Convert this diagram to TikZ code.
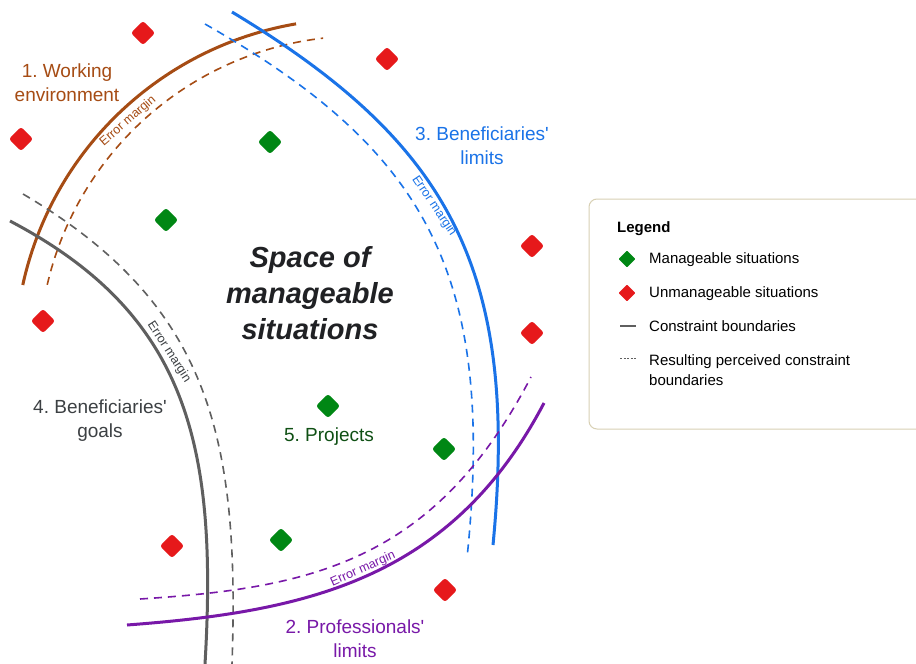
\documentclass[tikz,border=0pt]{standalone}
\usepackage{fontspec}
\setmainfont{Liberation Sans}
\frenchspacing
\definecolor{cbrown}{RGB}{166,76,20}
\definecolor{cblue}{RGB}{26,115,232}
\definecolor{cgray}{RGB}{95,95,95}
\definecolor{cdark}{RGB}{60,64,67}
\definecolor{cpurple}{RGB}{120,24,168}
\definecolor{cred}{RGB}{230,25,27}
\definecolor{cgreen}{RGB}{0,135,20}
\definecolor{cdgreen}{RGB}{15,80,20}
\definecolor{ctitle}{RGB}{32,33,36}
\definecolor{cbox}{RGB}{216,208,180}
\newcommand{\ap}{\textquotesingle}
\begin{document}
\begin{tikzpicture}[x=1pt,y=-1pt,
  solidb/.style={line width=3pt},
  dashb/.style={line width=1.6pt,dash pattern=on 8pt off 6pt},
  sit/.style={rectangle,rotate=45,minimum size=17pt,inner sep=0pt,rounded corners=2.5pt},
  good/.style={sit,fill=cgreen},
  bad/.style={sit,fill=cred},
  lab/.style={font=\fontsize{19}{24}\selectfont,align=center},
  em/.style={font=\fontsize{12.5}{14}\selectfont,inner sep=0pt},
  leg/.style={font=\fontsize{15}{20}\selectfont,anchor=west,align=left,inner sep=0pt}]
\useasboundingbox (0,0) rectangle (916,664);
\fill[white] (0,0) rectangle (916,664);
% Working environment
\draw[cbrown,solidb] plot[domain=192.3:260.3,samples=80] ({353+338*cos(\x)},{357+338*sin(\x)});
\draw[cbrown,dashb] plot[domain=193:263.4,samples=80] ({360+321*cos(\x)},{357+321*sin(\x)});
% Beneficiaries' limits
\draw[cblue,solidb] (232,12) .. controls (446,141) and (520,266) .. (493,545);
\draw[cblue,dashb] (205,24) .. controls (422,148) and (497,269) .. (467,558);
% Beneficiaries' goals
\draw[cgray,solidb] (10,221) .. controls (187,314) and (218,444) .. (205,664);
\draw[cgray,dashb] (23,194) .. controls (208,303) and (240,434) .. (232,664);
% Professionals' limits
\draw[cpurple,solidb] (127,625) .. controls (306.5,611.5) and (451,580) .. (544,403);
\draw[cpurple,dashb] (140,599) .. controls (310,588) and (434,563) .. (531,377);
% error margin labels
\node[em,text=cbrown,rotate=41] (em1) at (128,121) {Error margin};
\node[em,text=cblue,rotate=-56] (em3) at (434,206) {Error margin};
\node[em,text=cdark,rotate=-57] (em4) at (169,352) {Error margin};
\node[em,text=cpurple,rotate=24] (em2) at (363,569) {Error margin};
% labels
\node[lab,text=cbrown] (l1) at (67,83) {1. Working\\environment};
\node[lab,text=cblue] (l3) at (482,146) {3. Beneficiaries\ap\\limits};
\node[lab,text=cdark] (l4) at (100,421) {4. Beneficiaries\ap\\goals};
\node[lab,text=cdgreen] (l5) at (329,437) {5. Projects};
\node[lab,text=cpurple] (l2) at (355,639) {2. Professionals\ap\\limits};
\node[align=center,text=ctitle,font=\fontsize{29}{36}\selectfont\bfseries\itshape] (space) at (310,293) {Space of\\manageable\\situations};
% situations
\node[bad] (r1) at (143,33) {};
\node[bad] (r2) at (387,59) {};
\node[bad] (r3) at (21,139) {};
\node[bad] (r4) at (43,321) {};
\node[bad] (r5) at (532,246) {};
\node[bad] (r6) at (532,333) {};
\node[bad] (r7) at (172,546) {};
\node[bad] (r8) at (445,590) {};
\node[good] (g1) at (270,142) {};
\node[good] (g2) at (166,220) {};
\node[good] (g3) at (328,406) {};
\node[good] (g4) at (444,449) {};
\node[good] (g5) at (281,540) {};
% legend
\draw[cbox,line width=1pt,rounded corners=8pt,fill=white] (589,199) rectangle (930,429);
\node[leg,font=\fontsize{15}{20}\selectfont\bfseries] (lt) at (617,229) {Legend};
\node[good,minimum size=12pt,rounded corners=1pt] (lg) at (627,259) {};
\node[leg] (lgt) at (649,260) {Manageable situations};
\node[bad,minimum size=12pt,rounded corners=1pt] (lr) at (627,293) {};
\node[leg] (lrt) at (649,294) {Unmanageable situations};
\coordinate (la) at (620,326);
\coordinate (lb) at (636,326);
\draw[cgray,line width=1.5pt] (la) -- (lb);
\node[leg] (lst) at (649,326) {Constraint boundaries};
\coordinate (lc) at (620,358);
\coordinate (ld) at (636,358);
\draw[cgray,line width=1pt,dash pattern=on 2pt off 1.6pt] (lc) -- (ld);
\node[leg,anchor=north west] (ldt) at (649,354) {Resulting perceived constraint\\boundaries};
\end{tikzpicture}
\end{document}
